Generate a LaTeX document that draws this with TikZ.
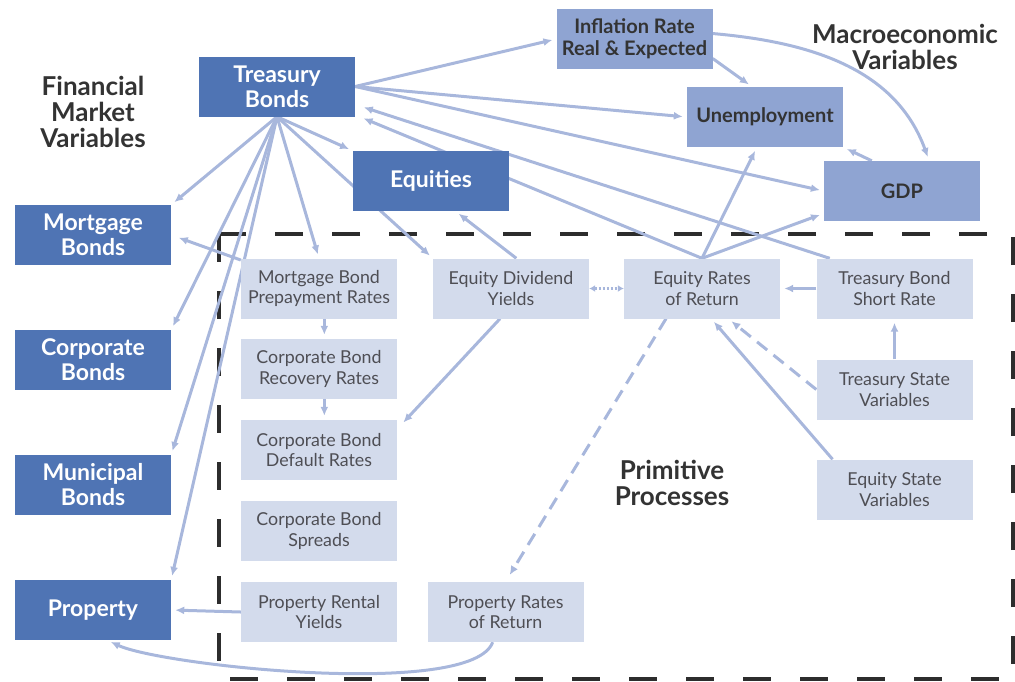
\documentclass[tikz,border=0pt]{standalone}
\usepackage{fontspec}
\setmainfont{Lato}
\usetikzlibrary{arrows.meta,backgrounds}
\definecolor{Cobalt}{RGB}{79,116,180}
\definecolor{Periwinkle}{RGB}{143,164,210}
\definecolor{Mist}{RGB}{211,219,236}
\definecolor{Flow}{RGB}{168,183,220}
\definecolor{Ink}{RGB}{51,51,51}
\definecolor{Slate}{RGB}{78,78,84}
\definecolor{Frame}{RGB}{45,45,45}

\begin{document}
\begin{tikzpicture}[x=1pt, y=-1pt,
    finbox/.style={fill=Cobalt, text=white, font=\fontsize{23}{25}\selectfont\bfseries,
        minimum width=156pt, minimum height=60pt, inner sep=0pt, align=center},
    macbox/.style={fill=Periwinkle, text=Ink, font=\fontsize{20}{22}\selectfont\bfseries,
        minimum width=156pt, minimum height=60pt, inner sep=0pt, align=center},
    primbox/.style={fill=Mist, text=Slate, font=\fontsize{17.8}{20.5}\selectfont,
        minimum width=156pt, minimum height=60pt, inner sep=0pt, align=center},
    heading/.style={text=Ink, font=\fontsize{26}{26}\selectfont\bfseries, align=center},
    link/.style={draw=Flow, line width=3pt, -{Latex[length=9pt,width=8pt]}, shorten >=4pt},
    dashlink/.style={link, dash pattern=on 13pt off 8pt},
    dotlink/.style={draw=Flow, line width=2.5pt, dash pattern=on 2pt off 2pt,
        {Latex[length=6pt,width=7pt]}-{Latex[length=6pt,width=7pt]}},
    frame/.style={draw=Frame, line width=4.5pt, dash pattern=on 28pt off 29pt}
]

\useasboundingbox (0,0) rectangle (1015,681);

% Financial market variables
\node[heading] (fmv) at (93,112) {Financial\\Market\\Variables};
\node[finbox] (tb) at (277,86.5) {Treasury\\Bonds};
\node[finbox] (eq) at (431,181) {Equities};
\node[finbox] (mb) at (93,235) {Mortgage\\Bonds};
\node[finbox] (cb) at (93,360) {Corporate\\Bonds};
\node[finbox] (mu) at (93,485) {Municipal\\Bonds};
\node[finbox] (prop) at (93,610) {Property};

% Macroeconomic variables
\node[heading] (mev) at (905,47) {Macroeconomic\\Variables};
\node[macbox] (infl) at (634.5,39) {Inflation Rate\\Real \& Expected};
\node[macbox] (unemp) at (765,117) {Unemployment};
\node[macbox] (gdp) at (902,191) {GDP};

% Primitive processes
\node[heading] (prim) at (672,483) {Primitive\\Processes};
\node[primbox] (prepay) at (319,288.5) {Mortgage Bond\\Prepayment Rates};
\node[primbox] (recov) at (319,369) {Corporate Bond\\Recovery Rates};
\node[primbox] (deflt) at (319,450) {Corporate Bond\\Default Rates};
\node[primbox] (sprd) at (319,531) {Corporate Bond\\Spreads};
\node[primbox] (rent) at (319,612) {Property Rental\\Yields};
\node[primbox] (divy) at (511,288.5) {Equity Dividend\\Yields};
\node[primbox] (eqret) at (702,288.5) {Equity Rates\\of Return};
\node[primbox] (short) at (894.5,288.5) {Treasury Bond\\Short Rate};
\node[primbox] (tsv) at (894.5,389.5) {Treasury State\\Variables};
\node[primbox] (esv) at (894.5,489.5) {Equity State\\Variables};
\node[primbox] (propret) at (505.5,612) {Property Rates\\of Return};

\begin{pgfonlayer}{background}
    \draw[frame] (219,234) rectangle (1013,679);

    % Treasury bonds fan out
    \draw[link] (tb.south) -- (mb.north east);
    \draw[link] (tb.south) -- (cb.north east);
    \draw[link] (tb.south) -- (mu.north east);
    \draw[link] (tb.south) -- (prop.north east);
    \draw[link] (tb.south) -- (prepay.north);
    \draw[link] (tb.south) -- (divy.north west);
    \draw[link] (tb.south) -- (eq.north west);
    \draw[link] (tb.east) -- (infl.west);
    \draw[link] (tb.east) -- (unemp.west);
    \draw[link] (tb.east) -- (gdp.west);

    % macro links
    \draw[link] (infl.-14) -- (unemp.113);
    \draw[link] (infl.4) to[out=-5, in=110] (gdp.48);
    \draw[link] (gdp.135) -- (unemp.south east);

    % back into treasury bonds
    \draw[link, shorten >=9pt] (short.155) -- (tb.-13);
    \draw[link, shorten >=9pt] (eqret.north) -- (tb.-20);
    \draw[link] (eqret.north) -- (unemp.-105);
    \draw[link] (eqret.north) -- (gdp.196);

    % equities and dividends
    \draw[link] (divy.80) -- (eq.-51);
    \draw[link, shorten >=9pt] (divy.-110) -- (deflt.15);
    \draw[dotlink] (divy.east) -- (eqret.west);

    % bond processes
    \draw[link, shorten >=8pt] (prepay.160) -- (mb.east);
    \draw[link] (prepay.-80) -- (recov.80);
    \draw[link] (recov.-80) -- (deflt.80);
    \draw[link] (rent.west) -- (prop.east);

    % state variables
    \draw[link] (short.west) -- (eqret.east);
    \draw[link] (tsv.north) -- (short.south);
    \draw[dashlink] (tsv.west) -- (eqret.-49);
    \draw[link] (esv.154) -- (eqret.-73);

    % property
    \draw[dashlink, shorten >=8pt] (eqret.-140) -- (propret.north);
    \draw[link] (propret.-113) to[out=-110, in=-25, looseness=0.4] (prop.-65);
\end{pgfonlayer}

\end{tikzpicture}
\end{document}
